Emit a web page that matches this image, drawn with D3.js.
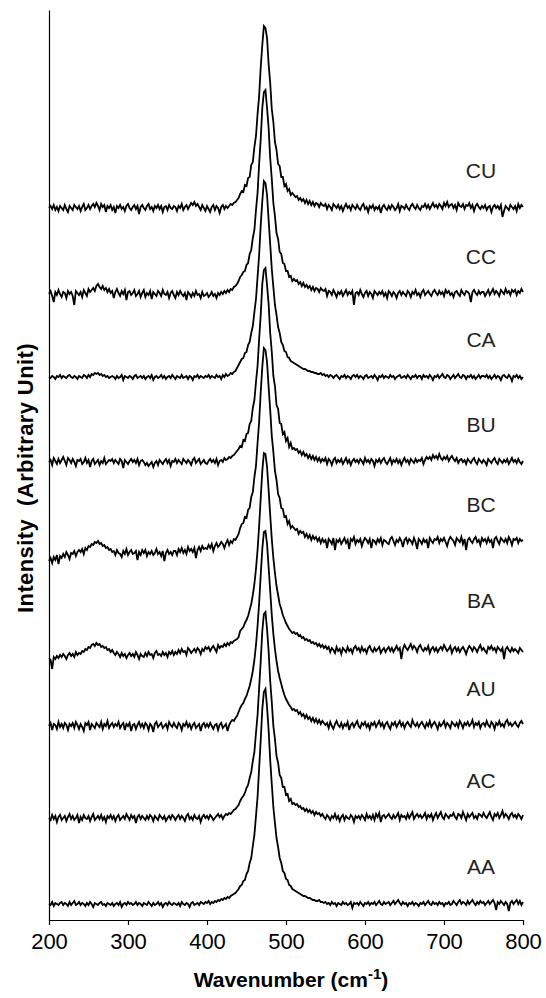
<!DOCTYPE html>
<html><head><meta charset="utf-8">
<script src="https://cdn.jsdelivr.net/npm/d3@7"></script>
<style>body{margin:0;background:#fff;} text{font-family:Arial,"Liberation Sans",sans-serif;}</style>
</head><body>
<svg id="chart" width="546" height="998"></svg>
<script>
// ---------- DATA ----------
const seriesNames = ["AA","AC","AU","BA","BC","BU","CA","CC","CU"];
// vertical stacking offset of each spectrum (arbitrary intensity units)
const baselineOffsets = [16,102,194,269,378,458,543,626,712];
const xTicks = [200,300,400,500,600,700,800];
// wavenumber sampling grid (cm-1), 2 cm-1 step
const waveNumbers = d3.range(200, 801, 2);

// each spectrum: 200-440 (121 pts) | 442-508 band (34 pts) | 510-800 (146 pts)
const CU = [
0,2,-1,3,-2, 1,-3,2,0,-2, 3,-1,-4,2,0, -2,3,1,-1,2,
-3,1,4,-2,0, 3,-1,2,4,1, 5,2,-2,4,1, 3,-4,2,0,3,
-2,1,-5,2,0, 3,-1,1,-3,2, 4,0,-2,1,3, -1,2,-6,1,3,
0,-2,2,4,-1, 1,-3,2,0,3, -1,2,-4,1,2, -2,3,0,-1,2,
1,-3,2,0,4, -2,1,3,-1,2, 5,3,6,2,4, 1,-2,3,0,-3,
2,-1,-4,1,3, -2,2,0,-5,1, 3,-1,2,0,2, 4,3,5,6,8,
10,
14,17,16,23,22,30,31,43,46,61,72,94,112,141,163,182,180,170,144,125,99,86,66,58,44,42,31,31,22,24,17,19,13,15,
13,11,12,8,10, 7,9,5,8,4, 7,3,6,2,5, 4,1,5,3,2,
4,-1,3,1,-2, 4,2,0,3,-1, 2,-3,1,4,0, 2,-2,3,1,-1,
3,0,-2,2,4, -1,1,-4,2,0, 3,-2,1,-1,2, -5,1,3,0,-2,
2,-1,3,1,-2, 0,4,-3,2,1, -1,3,0,-2,2, 4,1,-1,3,0,
-2,2,1,4,0, 3,-1,2,5,1, 3,0,4,2,-1, 5,2,6,1,3,
4,0,3,-2,5, 2,1,4,-1,3, 2,5,0,3,-3, 2,4,1,-1,2,
0,3,-2,1,2, -4,1,3,0,2, -1,3,-9,-3,2, 0,-2,3,1,-1,
2,-3,4,0,3,1];
const CC = [
0,3,-2,-8,2, -1,4,0,-3,2, 1,-4,3,0,2, -2,-11,3,1,-1,
2,-3,4,1,-2, 5,2,4,6,3, 8,10,7,5,8, 4,6,2,5,1,
3,-4,2,5,1, -2,3,0,4,-6, 2,3,-1,1,4, -2,0,3,-3,1,
4,-3,1,-1,3, -5,2,0,-2,3, 1,-2,4,0,-1, 2,-4,1,3,-1,
-4,2,-1,3,0, -2,1,-6,2,0, -3,1,-2,3,-1, 0,-4,2,-2,-1,
1,-3,-1,2,-2, 0,-4,1,-1,2, 0,3,1,4,2, 5,4,7,8,10,
13,
17,19,22,23,29,31,40,44,56,64,84,101,130,155,186,202,204,186,166,136,115,91,78,61,55,42,40,31,30,23,23,17,18,13,
15,13,14,10,12, 8,11,7,9,6, 8,4,7,3,6, 5,2,6,4,3,
5,-2,3,2,-1, 4,1,-3,2,0, 3,-2,1,4,-1, 2,0,3,-11,1,
2,-1,4,0,-3, 1,3,-2,2,0, -4,3,1,-1,2, 0,3,-2,1,-4,
3,1,-2,2,0, -4,1,3,-1,2, 0,-2,3,1,-3, 2,0,4,-1,1,
-3,2,4,-1,1, 3,0,-2,2,4, 1,-1,3,0,2, -2,4,1,3,-1,
1,-3,2,3,0, -2,4,1,-1,3, 2,0,-8,2,4, 1,-1,3,0,2,
2,-2,1,4,-1, 2,5,0,3,1, -2,4,2,0,5, 1,3,-1,4,2,
4,-1,3,1,5,2];
const CA = [
0,-1,1,0,-2, 1,0,2,-1,1, 0,-1,1,2,0, -1,1,0,-2,1,
0,-1,2,1,-1, 2,0,3,2,4, 3,4,2,3,1, 2,0,1,-1,0,
1,0,-2,1,-1, 0,2,-3,1,0, -1,1,0,-2,1, 2,-1,0,1,-1,
1,-2,0,1,-1, 2,-3,0,1,-1, 0,2,-1,1,-2, 0,1,-1,2,0,
-2,1,0,-1,2, -1,0,1,-2,1, 0,-3,1,0,2, -1,1,0,-1,1,
0,2,-1,1,0, -1,2,0,1,-2, 2,0,3,1,2, 4,3,5,6,9,
12,
15,18,19,24,25,32,35,44,51,65,78,100,122,152,176,196,194,182,157,133,108,90,72,62,50,44,35,32,26,25,20,19,16,15,
14,13,12,11,10, 9,8,8,7,6, 6,5,5,4,4, 3,3,4,2,3,
1,2,0,2,1, -1,1,2,0,-2, 1,0,2,-1,1, 0,-2,1,2,0,
2,-1,1,0,-2, 1,2,-1,0,1, -1,2,0,-3,1, 0,2,-1,1,0,
-1,2,0,1,-2, 0,1,2,-1,0, 1,-1,2,0,-2, 1,0,2,-1,1,
1,-2,2,0,1, -1,2,0,-3,1, 0,2,-1,1,3, 0,-1,2,1,-2,
0,2,-1,1,3, 0,-1,2,1,-2, 1,0,2,-1,1, -2,0,2,-1,1,
1,0,2,-1,1, -2,0,2,-1,1, 0,-3,1,2,0, -1,2,0,-4,1,
0,2,-1,1,-2,0];
const BU = [
0,2,-3,4,1, -2,3,-1,2,5, 1,-3,4,2,-1, 3,0,-4,2,1,
3,-2,0,4,-1, 2,-5,1,3,-2, 0,2,-3,1,-1, 4,-2,0,2,1,
3,-1,2,0,-2, 3,1,-6,2,0, -2,1,3,0,2, -1,3,-3,1,2,
0,-3,-1,-4,-2, 0,-5,-1,1,-3, 2,0,-2,1,3, -1,2,-4,1,0,
3,-1,2,0,-2, 3,1,-1,2,0, -3,2,4,-1,1, 3,-2,0,2,-1,
-2,1,3,0,2, -1,3,-3,1,2, 0,4,2,3,5, 4,6,7,9,11,
13,
16,15,22,21,28,29,38,41,54,62,80,96,123,147,178,192,194,177,158,129,110,86,76,57,53,39,38,28,30,21,24,15,19,13,
14,12,13,9,11, 7,10,6,8,4, 7,3,6,2,5, 1,4,0,3,1,
4,-2,3,1,-3, 2,4,-1,2,0, 3,-2,1,4,-1, 2,-3,1,3,0,
2,-1,3,1,-2, 4,0,2,-1,3, 1,-4,2,0,3, -1,2,4,0,-2,
1,4,-2,2,0, 3,-1,2,-3,1, 4,0,2,-2,3, 1,-1,3,0,2,
1,4,-2,2,5, 3,5,2,7,4, 6,3,8,4,2, 5,3,6,1,4,
6,3,1,4,-1, 2,3,0,2,-2, 3,1,-1,2,4, 0,-2,3,1,-1,
2,0,-3,3,1, -1,2,4,0,-2, 3,1,-1,2,0, 3,-2,1,4,0,
2,-1,3,0,-2,1];
const BC = [
-19,-16,-21,-15,-18, -13,-22,-14,-16,-12, -15,-10,-13,-17,-11, -12,-9,-14,-10,-8,
-10,-7,-12,-6,-8, -4,-5,-2,-3,0, -1,1,-2,-1,-4, -3,-6,-5,-8,-7,
-10,-9,-13,-8,-11, -12,-15,-9,-12,-7, -13,-10,-8,-12,-11, -9,-18,-10,-13,-8,
-11,-8,-14,-10,-12, -9,-13,-11,-7,-12, -10,-14,-9,-19,-11, -8,-12,-10,-13,-9,
-9,-13,-7,-10,-6, -11,-8,-12,-5,-9, -7,-10,-6,-16,-8, -5,-9,-4,-7,-6,
-7,-3,-6,-2,-9, -4,-1,-5,-3,0, -2,-6,-1,2,-3, 1,-1,3,2,5,
8,
14,18,19,25,24,32,34,45,50,65,76,99,120,150,175,194,192,180,155,132,106,90,71,62,48,44,34,33,25,26,18,21,14,16,
14,12,13,8,11, 9,10,5,8,4, 7,2,6,3,5, 1,4,-1,3,0,
2,-6,3,1,-2, 4,-8,2,0,3, -2,1,4,-1,2, -7,3,1,5,-2,
2,0,3,-4,1, 4,2,-1,3,-6, 2,1,-2,3,0, 4,-3,2,1,-1,
-2,3,5,1,-3, 2,0,4,1,-5, 2,4,-1,3,1, -2,4,0,-7,3,
1,-2,3,0,2, -6,4,1,-1,3, 2,5,-1,3,1, 4,0,-4,2,5,
3,1,-3,4,2, 0,5,-2,3,-8, 2,4,1,-1,3, 5,0,2,-3,4,
1,3,-1,4,0, 2,-6,3,5,1, -2,4,2,0,3, -1,5,2,-3,3,
2,4,-1,3,1,2];
const BA = [
-7,-9,-18,-6,-8, -5,-7,-4,-6,-3, -5,-8,-4,-2,-5, -3,-6,-1,-4,-2,
-3,0,-1,2,1, 4,3,6,7,5, 8,6,7,4,5, 3,4,1,2,-1,
1,-2,-4,-1,-3, -6,-2,-5,-3,-7, -4,-2,-5,-3,-6, -1,-4,-8,-3,-5,
-6,-2,-5,-1,-4, -3,-7,-2,0,-4, -3,-5,-1,-4,-2, -6,-1,-3,0,-4,
-1,-3,1,-2,2, -1,0,-4,3,1, -2,0,2,-1,3, 1,-3,2,0,4,
2,4,0,3,5, 2,-1,6,3,5, 4,7,5,8,6, 9,8,10,11,12,
14,
20,22,24,28,31,35,41,47,56,67,82,101,125,153,180,198,197,184,161,136,112,93,78,65,56,47,42,36,32,28,25,22,20,18,
19,17,18,15,16, 13,14,11,12,10, 11,8,9,7,8, 5,7,4,6,3,
5,2,4,-1,3, 1,-2,4,0,2, -3,3,1,-1,4, 0,2,-2,3,5,
1,3,-1,4,0, 2,-2,3,5,1, -1,3,0,2,4, -2,1,3,-1,2,
4,0,3,-1,2, 5,1,3,-8,2, 6,3,1,4,7, 2,5,3,-1,4,
6,2,0,3,1, 5,-2,2,4,0, 3,-1,2,4,1, 6,3,0,2,5,
-2,2,4,0,3, -1,2,4,1,-3, 2,5,3,0,4, 2,-1,3,6,1,
3,0,-2,4,2, 5,1,3,-1,4, 2,0,3,-8,2, 4,1,-1,3,0,
2,0,-2,3,1,-1];
const AU = [
0,3,-4,2,1, -3,4,-1,2,-2, 3,1,-4,2,0, 3,-2,4,1,-3,
2,-1,-5,3,1, 4,-4,2,0,-2, 3,1,-1,4,-3, 2,0,5,-2,1,
3,-1,2,0,4, -2,1,3,-4,2, 0,3,-5,1,2, -3,1,4,-1,2,
-2,3,1,-4,2, 0,-6,2,4,-1, 1,3,-2,0,2, -3,4,1,-1,3,
0,-2,3,1,-4, 2,0,4,-1,2, -3,1,3,-2,0, 2,-5,1,3,-1,
2,-1,3,0,-3, 1,2,-4,1,3, -2,0,2,-5,1, 4,6,5,8,10,
14,
18,21,23,27,30,35,40,47,55,66,81,100,123,151,177,194,195,182,159,135,111,92,77,65,55,48,42,36,31,27,24,21,19,16,
17,15,16,12,14, 10,12,8,11,7, 9,5,8,4,7, 3,6,2,5,3,
1,3,-2,4,0, -3,2,5,1,-1, 3,-2,2,0,4, -4,1,3,-1,2,
5,0,-2,3,1, 4,-1,2,-3,3, 1,4,-1,2,5, 0,3,-2,2,4,
0,-3,3,1,4, -1,2,5,0,3, -2,2,4,1,-1, 6,2,0,3,-1,
2,4,1,-2,3, 0,5,-1,2,4, 1,-3,3,0,2, 5,-1,3,1,-2,
4,2,0,3,-1, 5,2,-2,3,1, 4,0,2,6,-1, 3,1,4,-2,2,
3,0,5,1,-1, 4,2,-3,3,1, 5,0,2,-1,4, 6,1,3,0,2,
4,1,-1,3,5,2];
const AC = [
0,-2,3,-1,2, -4,1,3,-2,0, 2,-3,1,4,-1, 2,-2,0,3,-5,
1,-2,3,0,-1, 2,-3,1,4,-2, 0,2,-1,3,-2, 1,-4,2,0,3,
-1,2,-3,1,3, -2,0,2,-1,4, 1,-2,3,0,2, -5,1,3,-1,2,
0,-2,2,-1,3, 1,-3,2,0,-2, 3,1,-1,2,-3, 0,2,-1,3,1,
-2,1,3,-1,2, 0,-3,2,4,-1, 1,-2,3,0,-1, 2,-4,1,3,0,
2,-1,3,1,-2, 0,2,4,1,3, -1,2,4,3,5, 4,6,8,9,11,
13,
17,20,22,25,30,33,40,46,57,66,85,103,130,157,187,204,206,189,167,137,116,92,79,62,55,43,40,31,31,23,24,17,19,14,
15,13,14,11,12, 9,10,7,9,6, 8,5,7,3,6, 4,5,2,4,1,
-1,3,1,-2,2, 0,4,-1,2,-3, 1,3,-2,2,0, -1,3,1,-4,2,
0,2,-1,3,1, -2,4,0,2,-1, 3,-2,4,1,5, -4,2,3,0,2,
4,1,-1,3,0, 2,5,-2,3,1, 2,-1,4,0,3, 6,-1,2,4,1,
3,0,2,5,-1, 3,1,4,-2,2, 5,0,3,6,1, -1,4,2,0,3,
2,5,1,-1,4, 3,0,6,2,-2, 4,1,3,5,0, 2,-1,4,3,1,
5,2,0,3,6, 1,-2,4,2,5, 0,3,7,1,4, 2,-1,3,5,1,
3,0,4,2,-1,3];
const AA = [
0,-1,2,-2,1, 0,-1,1,2,-1, 1,0,-2,2,-1, 1,3,-1,0,2,
-1,1,0,-2,1, -1,2,0,-3,1, 0,-1,1,2,-1, 0,-2,1,0,-1,
1,-2,0,1,-1, 2,-3,0,1,-1, 2,0,1,-1,0, 2,-1,1,0,-2,
1,0,-1,2,0, -2,1,-1,0,2, -1,1,-3,0,1, -1,2,0,-1,1,
0,-1,1,-2,2, 0,-1,1,0,-3, 1,2,-1,0,1, -1,2,1,0,2,
1,3,0,2,1, 3,2,4,3,5, 4,6,5,7,6, 8,9,10,11,13,
15,
18,19,23,24,30,33,41,46,58,69,88,107,136,164,195,212,215,197,174,144,120,97,81,66,57,46,41,33,31,25,24,19,18,15,
14,13,12,11,10, 9,8,8,7,6, 6,5,4,4,3, 3,4,2,2,1,
2,0,1,-1,2, 0,1,-2,1,0, -1,2,0,1,-1, 0,2,-4,1,0,
1,-1,2,0,-2, 1,0,2,-1,1, 0,2,-1,1,3, 0,-1,2,0,1,
2,-1,1,3,0, 2,4,1,-1,2, 0,1,-2,1,0, 2,-1,1,0,-2,
1,0,2,-1,1, 3,0,-1,2,0, 1,-1,2,0,1, -2,1,0,2,-1,
0,3,1,-1,2, 4,0,2,1,-1, 3,0,2,4,1, -1,2,0,3,1,
2,-1,1,3,0, 2,4,1,-6,2, 0,3,1,-1,2, 0,-7,1,3,0,
2,4,0,3,-1,2];
const seriesValues = [AA,AC,AU,BA,BC,BU,CA,CC,CU];

// ---------- DRAW ----------
const svg = d3.select("#chart");
const x = d3.scaleLinear().domain([200,800]).range([49,523]);
const y = d3.scaleLinear().domain([0,910]).range([920,10]);

seriesValues.forEach((vals,k)=>{
  if (vals.length !== waveNumbers.length) console.error(seriesNames[k]+" length "+vals.length+" vs "+waveNumbers.length);
  const off = baselineOffsets[k];
  const n = Math.min(vals.length, waveNumbers.length);
  const pts = d3.range(n).map(i=>[waveNumbers[i], vals[i]+off]);
  svg.append("path")
    .datum(pts)
    .attr("fill","none")
    .attr("stroke","#000")
    .attr("stroke-width",1.8)
    .attr("d", d3.line().x(d=>x(d[0])).y(d=>y(d[1])));
});

// series labels
const labelLift = {BA:50};
seriesNames.forEach((name,k)=>{
  svg.append("text")
    .attr("x", 481)
    .attr("y", y(baselineOffsets[k]) - (labelLift[name]||37))
    .attr("dy","0.35em")
    .attr("text-anchor","middle")
    .attr("font-size",21)
    .attr("fill","#222")
    .text(name);
});

// x axis
const xAxis = d3.axisBottom(x).tickValues(xTicks).tickFormat(d3.format("d")).tickSize(5).tickSizeOuter(0).tickPadding(8);
const gx = svg.append("g").attr("transform","translate(0,920)").call(xAxis);
gx.selectAll("text").attr("font-size",22).attr("font-family","Arial, 'Liberation Sans', sans-serif").attr("fill","#000");
gx.selectAll("line,path").attr("stroke","#000").attr("stroke-width",1.2);

// y axis (line only)
const yAxis = d3.axisLeft(y).tickValues([]).tickSizeOuter(0);
svg.append("g").attr("transform","translate(49,0)").call(yAxis)
  .selectAll("path").attr("stroke","#000").attr("stroke-width",1.2);

// axis titles
const xt = svg.append("text").attr("x",291).attr("y",987).attr("text-anchor","middle")
  .attr("font-size",21).attr("font-weight","bold").attr("fill","#000");
xt.append("tspan").text("Wavenumber (cm");
xt.append("tspan").attr("dy",-8).attr("font-size",15).text("-1");
xt.append("tspan").attr("dy",8).text(")");

svg.append("text").attr("transform","translate(33,478) rotate(-90)")
  .attr("text-anchor","middle").attr("font-size",22).attr("font-weight","bold")
  .attr("letter-spacing",0.4).attr("fill","#000")
  .text("Intensity\u00A0\u00A0(Arbitrary Unit)");
</script>
</body></html>
